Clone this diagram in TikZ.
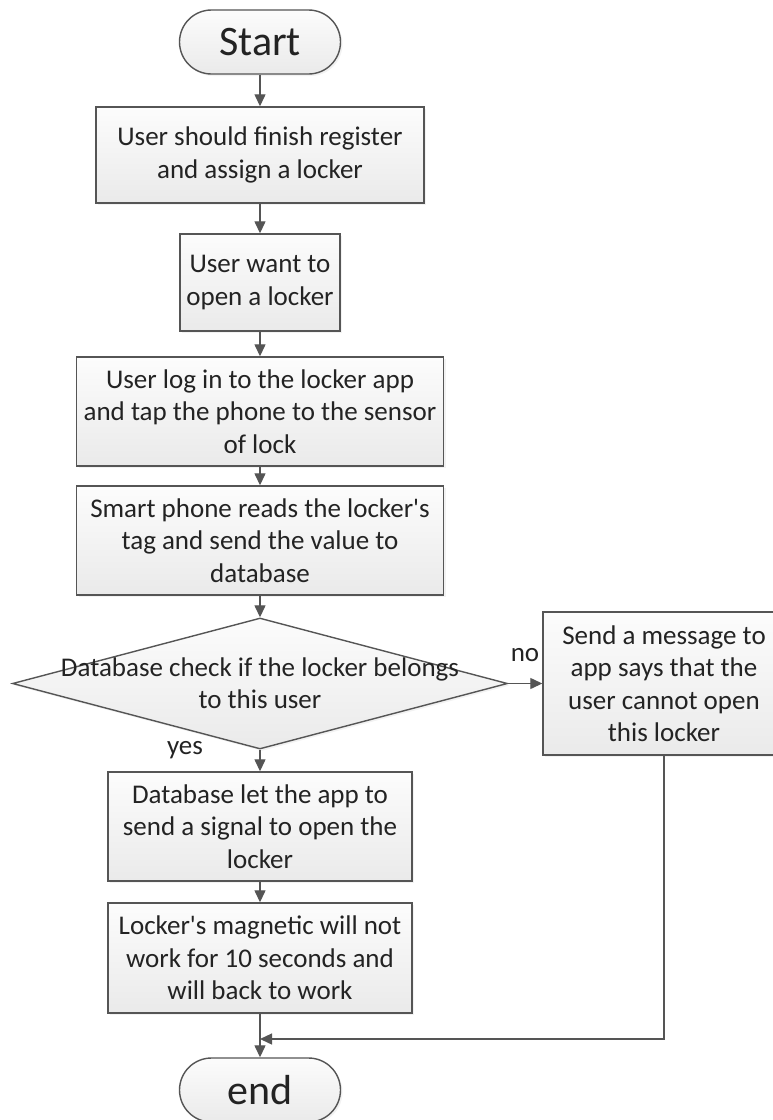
\documentclass[tikz,border=0pt]{standalone}
\usepackage{fontspec}
\setmainfont{Carlito}
\usetikzlibrary{arrows.meta,shapes.geometric,shadows}
\definecolor{borderc}{RGB}{85,85,85}
\definecolor{textc}{RGB}{35,35,35}
\definecolor{topc}{RGB}{252,252,252}
\definecolor{botc}{RGB}{234,234,234}
\tikzset{
  boxbase/.style={draw=borderc, line width=1.4pt, top color=topc, bottom color=botc,
    drop shadow={shadow xshift=2pt, shadow yshift=-2pt, opacity=0.10},
    text=textc, align=center, inner sep=0pt,
    font=\fontsize{27}{32.5}\selectfont},
  procbox/.style={boxbase, rectangle},
  termbox/.style={boxbase, rectangle, rounded corners=32pt, minimum width=161pt, minimum height=64pt,
    font=\fontsize{42}{46}\selectfont},
  decbox/.style={boxbase, diamond, minimum width=495pt, minimum height=131pt},
  plaintext/.style={text=textc, align=center, inner sep=0pt, font=\fontsize{27}{32.5}\selectfont},
  flow/.style={draw=borderc, line width=1.3pt, -{Triangle[length=12pt,width=11pt]}},
}
\begin{document}
\begin{tikzpicture}[x=1pt,y=-1pt]
\useasboundingbox (0,0) rectangle (773,1120);
\clip (0,0) rectangle (773,1120);
\fill[white] (0,0) rectangle (773,1120);

\node[termbox] (start) at (260,42) {Start};
\node[procbox, minimum width=328pt, minimum height=96pt] (b1) at (260,155)
  {User should finish register\\and assign a locker};
\node[procbox, minimum width=160pt, minimum height=97pt] (b2) at (260,282.5)
  {User want to\\open a locker};
\node[procbox, minimum width=367pt, minimum height=109pt] (b3) at (260,411.5)
  {User log in to the locker app\\and tap the phone to the sensor\\of lock};
\node[procbox, minimum width=367pt, minimum height=109pt] (b4) at (260,540.5)
  {Smart phone reads the locker\textquotesingle s\\tag and send the value to\\database};
\node[decbox] (dia) at (260,683.5) {};
\node[plaintext] (diatext) at (260,683) {Database check if the locker belongs\\to this user};
\node[procbox, minimum width=242pt, minimum height=143pt] (msg) at (664,683.5)
  {Send a message to\\app says that the\\user cannot open\\this locker};
\node[procbox, minimum width=304pt, minimum height=109pt] (b5) at (260,826.5)
  {Database let the app to\\send a signal to open the\\locker};
\node[procbox, minimum width=304pt, minimum height=110pt] (b6) at (260,958)
  {Locker\textquotesingle s magnetic will not\\work for 10 seconds and\\will back to work};
\node[termbox] (end) at (260,1090) {end};

\coordinate (j) at (260,1039);

\draw[flow] (start) -- (b1);
\draw[flow] (b1) -- (b2);
\draw[flow] (b2) -- (b3);
\draw[flow] (b3) -- (b4);
\draw[flow] (b4) -- (dia);
\draw[flow] (dia.south) -- (b5);
\draw[flow] (dia.east) -- (msg.west);
\draw[flow] (b5) -- (b6);
\draw[flow] (b6) -- (end);
\draw[flow] (msg.south) |- (j);

\node[plaintext] (nolbl) at (525,655) {no};
\node[plaintext] (yeslbl) at (185,750) {yes};
\end{tikzpicture}
\end{document}
